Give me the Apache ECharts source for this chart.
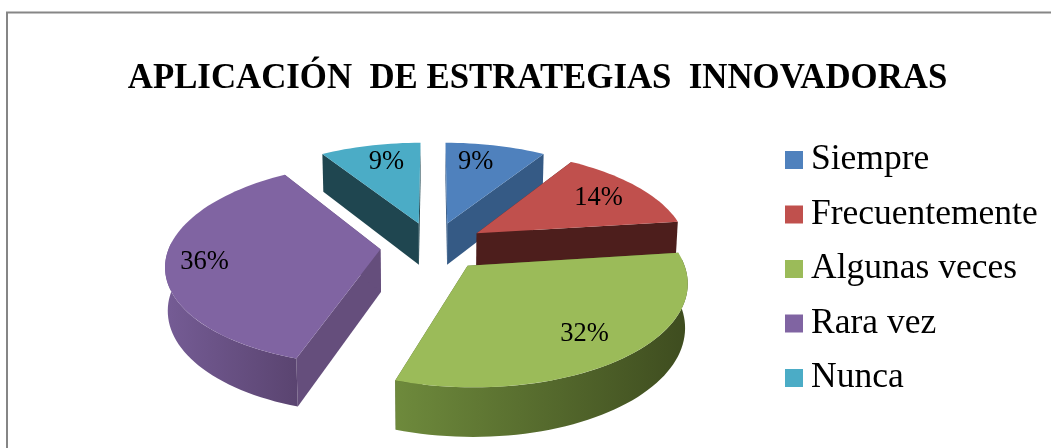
<!DOCTYPE html>
<html>
<head>
<meta charset="utf-8">
<style>
	html, body { margin: 0; padding: 0; background: #fff; }
	#chart { width: 1051px; height: 448px; }
</style>
<script src="https://cdn.jsdelivr.net/npm/echarts@6/dist/echarts.min.js"></script>
</head>
<body>
<div id="chart"></div>
<script>
	var titleText = 'APLICACIÓN  DE ESTRATEGIAS  INNOVADORAS';
	var categories = ['Siempre', 'Frecuentemente', 'Algunas veces', 'Rara vez', 'Nunca'];
	var values = [9, 14, 32, 36, 9];
	var topColors = ['#4f81bd', '#c0504d', '#9bbb59', '#8064a2', '#4bacc6'];
	var cutColors = ['#355a85', '#4d1e1c', '#4d6029', '#654e7c', '#1f4650'];
	var rimColors = [['#355a85', '#355a85'], ['#4d1e1c', '#4d1e1c'], ['#6e8a3c', '#3e4c1f'], ['#755c95', '#5a4470'], ['#1f4650', '#1f4650']];
	// draw order: back slices first
	var drawOrder = [4, 0, 1, 3, 2];
	// label nudges in px, excel does not put them exactly on the radius
	var labelNudgeX = [-10, -3, -3, -11, 6];
	var labelNudgeY = [0, 2, 1, 3, 0];

	var total = values.reduce(function(a, b) { return a + b; }, 0);
	var angleStart = [];
	var sumSoFar = 0;
	for(let i = 0; i < values.length; i++) {
		angleStart.push(sumSoFar / total * 360);
		sumSoFar += values[i];
	}

	// fake 3D pie: unit disc tilted, with perspective
	var cx = 433, cy = 246.2, scaleX = 211, scaleY = 98.2, depth = 43, dist = 7, explode = 0.25;

	function project(u, v, low) {
		var s = 1 / (1 - v / dist + (low ? 0.01 : 0));
		return [cx + scaleX * u * s, cy + (scaleY * v + (low ? depth : 0)) * s];
	}
	function rad(a) { return a * Math.PI / 180; }
	function discPoint(idx, a, r, low) {
		var mid = rad(angleStart[idx] + values[idx] / total * 180);
		var u = explode * Math.sin(mid) + r * Math.sin(rad(a));
		var v = -explode * Math.cos(mid) - r * Math.cos(rad(a));
		return project(u, v, low);
	}
	function arcPoints(idx, a0, a1, low) {
		var pts = [];
		var n = Math.max(2, Math.ceil((a1 - a0) / 2));
		for(let k = 0; k <= n; k++) {
			pts.push(discPoint(idx, a0 + (a1 - a0) * k / n, 1, low));
		}
		return pts;
	}
	function poly(points, fill) {
		return { type: 'polygon', shape: { points: points }, style: { fill: fill, stroke: null } };
	}

	function renderSlice(idx) {
		var a0 = angleStart[idx];
		var a1 = a0 + values[idx] / total * 360;
		var children = [];
		[a0, a1].forEach(function(a) {
			children.push(poly([
				discPoint(idx, a, 0, false), discPoint(idx, a, 1, false),
				discPoint(idx, a, 1, true), discPoint(idx, a, 0, true)
			], cutColors[idx]));
		});
		var w0 = Math.max(a0, 86), w1 = Math.min(a1, 274);
		if(w1 > w0) {
			var wall = arcPoints(idx, w0, w1, false).concat(arcPoints(idx, w0, w1, true).reverse());
			var c = rimColors[idx];
			children.push(poly(wall, new echarts.graphic.LinearGradient(0, 0, 1, 0, [
				{ offset: 0, color: c[0] },
				{ offset: 1, color: c[1] }
			])));
		}
		var topPts = [discPoint(idx, a0, 0, false)].concat(arcPoints(idx, a0, a1, false));
		children.push(poly(topPts, topColors[idx]));
		var lab = discPoint(idx, (a0 + a1) / 2, 0.77, false);
		children.push({
			type: 'text', z2: 10,
			style: {
				x: lab[0] + labelNudgeX[idx], y: lab[1] + labelNudgeY[idx], text: values[idx] + '%', fill: '#000',
				font: '26.5px "Liberation Serif"', align: 'center', verticalAlign: 'middle'
			}
		});
		return { type: 'group', children: children };
	}

	var seriesArr = drawOrder.map(function(idx, order) {
		return {
			type: 'custom',
			name: categories[idx],
			coordinateSystem: 'none',
			silent: true,
			z: 2 + order,
			itemStyle: { color: topColors[idx] },
			data: [[values[idx]]],
			renderItem: function() { return renderSlice(idx); }
		};
	});

	var chart = echarts.init(document.getElementById('chart'), null, { renderer: 'canvas' });
	chart.setOption({
		animation: false,
		backgroundColor: '#fff',
		title: {
			text: titleText,
			left: 532.5,
			top: 56.5,
			textAlign: 'center',
			textStyle: { fontFamily: 'Liberation Serif', fontWeight: 'bold', fontSize: 34.8, color: '#000' }
		},
		legend: {
			data: categories,
			orient: 'vertical',
			left: 780,
			top: 137,
			icon: 'rect',
			itemWidth: 18,
			itemHeight: 18,
			itemGap: 18.5,
			selectedMode: false,
			textStyle: { fontFamily: 'Liberation Serif', fontSize: 35.5, color: '#000', padding: [0, 0, 0, 3] }
		},
		graphic: [{
			type: 'polyline',
			shape: { points: [[7, 460], [7, 12.5], [1060, 12.5]] },
			style: { fill: 'none', stroke: '#868686', lineWidth: 2 },
			silent: true,
			z: 0
		}],
		series: seriesArr
	});
</script>
</body>
</html>
